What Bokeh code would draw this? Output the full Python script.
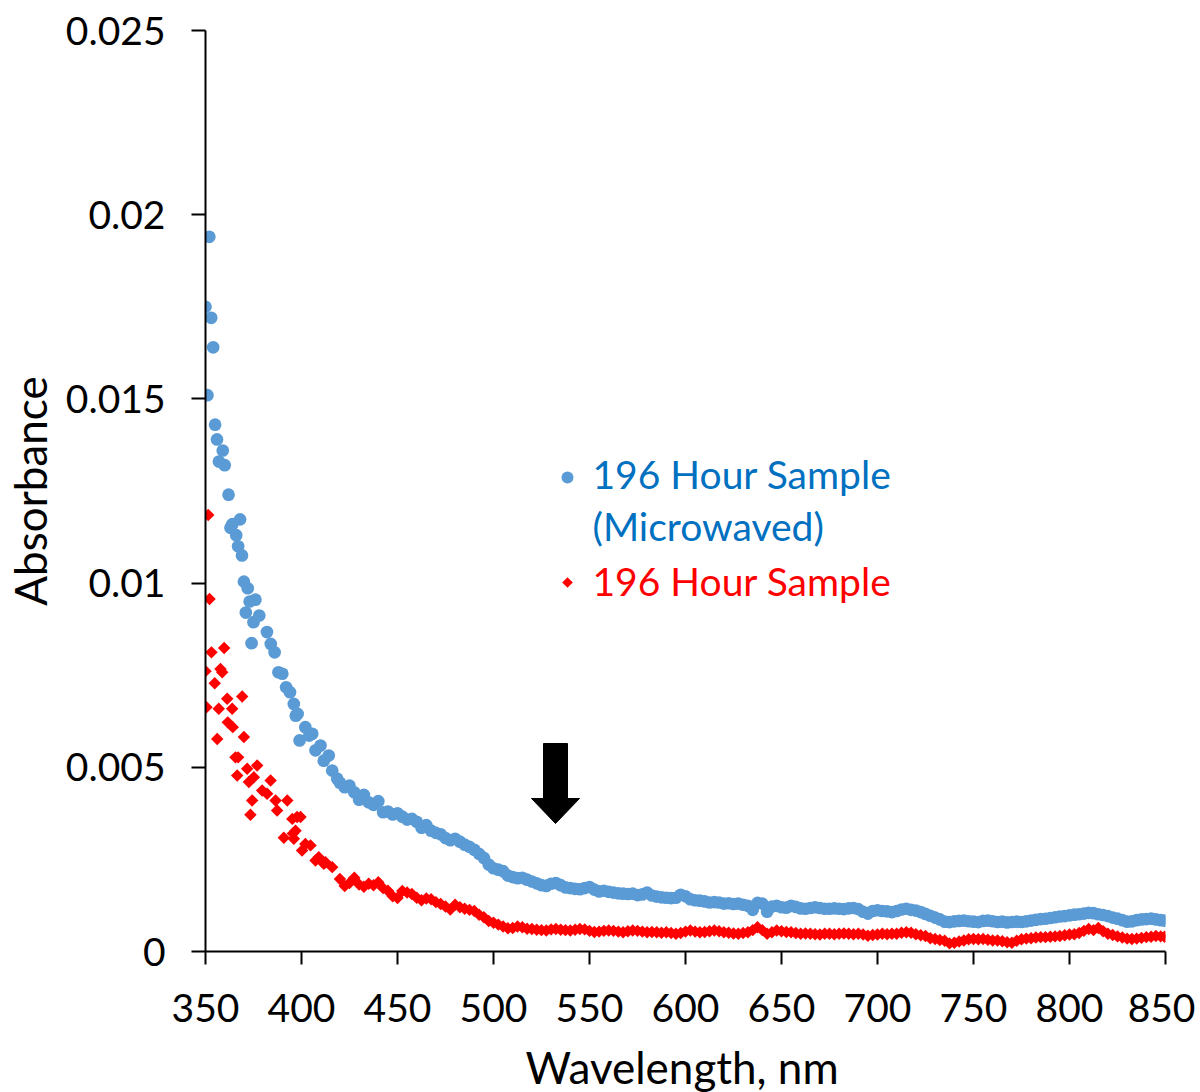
import numpy as np
from bokeh.plotting import figure
from bokeh.models import FixedTicker, Label, Div
from bokeh.layouts import column
from bokeh.embed import file_html
from bokeh.resources import INLINE

# ---------------- data ----------------
blue_wl = [350, 351, 352, 353, 354, 355, 356, 357, 359, 360, 362, 363, 364, 366, 367,
           368, 369, 370, 371, 372, 373, 374, 375, 376, 378, 382, 384, 386, 388, 390,
           392, 394, 396, 397, 398, 399, 402, 404, 405.6, 407.3, 409.9, 411.6, 414.2,
           416, 418.6,
           420, 422.5, 425, 427.5, 430, 432.5, 435, 437.5, 440, 442.5, 445, 447.5, 450,
           452.5, 455, 457.5, 460, 462.5, 465, 467.5, 470, 472.5, 475, 477.5, 480, 482.5,
           485, 487.5, 490, 492.5, 495, 497.5, 500, 502.5, 505, 507.5, 510, 512.5, 515,
           517.5, 520, 522.5, 525, 527.5, 530, 532.5, 535, 537.5, 540, 542.5, 545, 547.5,
           550, 552.5, 555, 557.5, 560, 562.5, 565, 567.5, 570, 572.5, 575, 577.5, 580,
           582.5, 585, 587.5, 590, 592.5, 595, 597.5, 600, 602.5, 605, 607.5, 610, 612.5,
           615, 617.5, 620, 622.5, 625, 627.5, 630, 632.5, 635, 637.5, 640, 642.5, 645,
           647.5, 650, 652.5, 655, 657.5, 660, 662.5, 665, 667.5, 670, 672.5, 675, 677.5,
           680, 682.5, 685, 687.5, 690, 692.5, 695, 697.5, 700, 702.5, 705, 707.5, 710,
           712.5, 715, 717.5, 720, 722.5, 725, 727.5, 730, 732.5, 735, 737.5, 740, 742.5,
           745, 747.5, 750, 752.5, 755, 757.5, 760, 762.5, 765, 767.5, 770, 772.5, 775,
           777.5, 780, 782.5, 785, 787.5, 790, 792.5, 795, 797.5, 800, 802.5, 805, 807.5,
           810, 812.5, 815, 817.5, 820, 822.5, 825, 827.5, 830, 832.5, 835, 837.5, 840,
           842.5, 845, 847.5, 849.5]
blue_abs = [0.0175, 0.0151, 0.0194, 0.0172, 0.0164, 0.0143, 0.0139, 0.0133, 0.0136, 0.0132,
            0.0124, 0.0115, 0.0116, 0.0113, 0.0110, 0.01173, 0.01075, 0.01004, 0.0092,
            0.00986, 0.0095, 0.00837, 0.00894, 0.00955, 0.00912, 0.00867, 0.00835, 0.00812,
            0.00758, 0.00754, 0.00717, 0.00704, 0.00672, 0.0064, 0.00645, 0.00573, 0.00609,
            0.00586, 0.00591, 0.00546, 0.00559, 0.00518, 0.00532, 0.00491, 0.00469,
            0.00458, 0.00446, 0.00450, 0.00432, 0.00412, 0.00425, 0.00405, 0.00398, 0.00408,
            0.00378, 0.00380, 0.00372, 0.00375, 0.00366, 0.00358, 0.00360, 0.00352, 0.00336,
            0.00343, 0.00328, 0.00322, 0.00318, 0.00308, 0.00302, 0.00306, 0.00298, 0.00290,
            0.00284, 0.00276, 0.00265, 0.00254, 0.00236, 0.00226, 0.00222, 0.00218, 0.00206,
            0.00202, 0.00199, 0.00200, 0.00195, 0.00190, 0.00185, 0.00180, 0.00178, 0.00184,
            0.00186, 0.00180, 0.00174, 0.00172, 0.00170, 0.00169, 0.00172, 0.00175, 0.00168,
            0.00163, 0.00165, 0.00162, 0.00160, 0.00158, 0.00157, 0.00156, 0.00157, 0.00153,
            0.00155, 0.00160, 0.00152, 0.00149, 0.00147, 0.00146, 0.00145, 0.00146, 0.00154,
            0.00150, 0.00142, 0.00139, 0.00138, 0.00136, 0.00133, 0.00134, 0.00133, 0.00130,
            0.00131, 0.00129, 0.00130, 0.00127, 0.00124, 0.00113, 0.00132, 0.00130, 0.00108,
            0.00122, 0.00124, 0.00120, 0.00119, 0.00124, 0.00121, 0.00117, 0.00116, 0.00118,
            0.00120, 0.00118, 0.00116, 0.00116, 0.00117, 0.00116, 0.00115, 0.00117, 0.00118,
            0.00115, 0.00108, 0.00103, 0.00110, 0.00112, 0.00110, 0.00109, 0.00107, 0.00110,
            0.00114, 0.00116, 0.00113, 0.00111, 0.00107, 0.00102, 0.00097, 0.00092, 0.00087,
            0.00081, 0.00080, 0.00082, 0.00083, 0.00084, 0.00082, 0.00081, 0.00080, 0.00083,
            0.00084, 0.00082, 0.00080, 0.00081, 0.00079, 0.00080, 0.00081, 0.00080, 0.00082,
            0.00084, 0.00086, 0.00088, 0.00089, 0.00091, 0.00093, 0.00095, 0.00096, 0.00098,
            0.00100, 0.00101, 0.00103, 0.00105, 0.00104, 0.00101, 0.00099, 0.00096, 0.00092,
            0.00089, 0.00085, 0.00081, 0.00082, 0.00085, 0.00087, 0.00088, 0.00089, 0.00087,
            0.00085, 0.00084]

red_wl = [350, 350.5, 351.4, 352.1, 353.1, 354.8, 356.1, 356.9, 357.8, 358.7, 359.7, 361.3,
          361.6, 363.9, 364.2, 365.6, 366.5, 367, 369.1, 370, 371.7, 372.6, 373.4, 374.3,
          375.2, 376.9, 379.5, 382.1, 383.9, 386.5, 387.3, 390.8, 392.6, 395.2, 395.5, 396,
          396.9, 397.7, 399.5, 400.3, 402, 404.7, 407.3, 409, 411.6, 412.5, 416,
          420, 422.5, 425, 427.5, 430, 432.5, 435, 437.5, 440, 442.5, 445, 447.5, 450,
          452.5, 455, 457.5, 460, 462.5, 465, 467.5, 470, 472.5, 475, 477.5, 480, 482.5,
          485, 487.5, 490, 492.5, 495, 497.5, 500, 502.5, 505, 507.5, 510, 512.5, 515,
          517.5, 520, 522.5, 525, 527.5, 530, 532.5, 535, 537.5, 540, 542.5, 545, 547.5,
          550, 552.5, 555, 557.5, 560, 562.5, 565, 567.5, 570, 572.5, 575, 577.5, 580,
          582.5, 585, 587.5, 590, 592.5, 595, 597.5, 600, 602.5, 605, 607.5, 610, 612.5,
          615, 617.5, 620, 622.5, 625, 627.5, 630, 632.5, 635, 637.5, 640, 642.5, 645,
          647.5, 650, 652.5, 655, 657.5, 660, 662.5, 665, 667.5, 670, 672.5, 675, 677.5,
          680, 682.5, 685, 687.5, 690, 692.5, 695, 697.5, 700, 702.5, 705, 707.5, 710,
          712.5, 715, 717.5, 720, 722.5, 725, 727.5, 730, 732.5, 735, 737.5, 740, 742.5,
          745, 747.5, 750, 752.5, 755, 757.5, 760, 762.5, 765, 767.5, 770, 772.5, 775,
          777.5, 780, 782.5, 785, 787.5, 790, 792.5, 795, 797.5, 800, 802.5, 805, 807.5,
          810, 812.5, 815, 817.5, 820, 822.5, 825, 827.5, 830, 832.5, 835, 837.5, 840,
          842.5, 845, 847.5, 849.5]
red_abs = [0.00761, 0.00663, 0.01185, 0.00957, 0.00812, 0.00728, 0.00577, 0.00659, 0.00767,
           0.00758, 0.00824, 0.00686, 0.00622, 0.00659, 0.00609, 0.00527, 0.00478, 0.00527,
           0.00692, 0.00582, 0.00496, 0.00460, 0.00371, 0.00410, 0.00473, 0.00505, 0.00437,
           0.00428, 0.00464, 0.00410, 0.00383, 0.00309, 0.00410, 0.00360, 0.00320, 0.00306,
           0.00328, 0.00365, 0.00365, 0.00274, 0.00292, 0.00288, 0.00247, 0.00256, 0.00238,
           0.00242, 0.00229,
           0.00197, 0.00178, 0.00186, 0.00200, 0.00182, 0.00176, 0.00184, 0.00180, 0.00188,
           0.00172, 0.00165, 0.00150, 0.00145, 0.00164, 0.00160, 0.00156, 0.00146, 0.00139,
           0.00144, 0.00142, 0.00134, 0.00129, 0.00122, 0.00114, 0.00127, 0.00120, 0.00116,
           0.00113, 0.00110, 0.00100, 0.00093, 0.00083, 0.00078, 0.00073, 0.00068, 0.00063,
           0.00064, 0.00068, 0.00066, 0.00062, 0.00061, 0.00059, 0.00058, 0.00057, 0.00060,
           0.00061, 0.00059, 0.00058, 0.00057, 0.00059, 0.00061, 0.00060, 0.00056, 0.00053,
           0.00054, 0.00056, 0.00057, 0.00056, 0.00054, 0.00052, 0.00055, 0.00057, 0.00056,
           0.00054, 0.00052, 0.00053, 0.00052, 0.00051, 0.00052, 0.00050, 0.00048, 0.00050,
           0.00054, 0.00057, 0.00054, 0.00052, 0.00053, 0.00055, 0.00057, 0.00055, 0.00052,
           0.00051, 0.00049, 0.00048, 0.00050, 0.00052, 0.00058, 0.00066, 0.00058, 0.00048,
           0.00052, 0.00057, 0.00055, 0.00053, 0.00052, 0.00050, 0.00048, 0.00049, 0.00048,
           0.00047, 0.00046, 0.00048, 0.00048, 0.00047, 0.00048, 0.00049, 0.00048, 0.00047,
           0.00048, 0.00046, 0.00043, 0.00045, 0.00046, 0.00048, 0.00047, 0.00048, 0.00048,
           0.00051, 0.00052, 0.00051, 0.00047, 0.00044, 0.00042, 0.00036, 0.00034, 0.00031,
           0.00029, 0.00022, 0.00024, 0.00027, 0.00030, 0.00033, 0.00034, 0.00033, 0.00034,
           0.00032, 0.00030, 0.00030, 0.00028, 0.00025, 0.00024, 0.00029, 0.00033, 0.00035,
           0.00036, 0.00038, 0.00039, 0.00039, 0.00040, 0.00041, 0.00042, 0.00044, 0.00046,
           0.00047, 0.00050, 0.00056, 0.00061, 0.00058, 0.00064, 0.00055, 0.00048, 0.00045,
           0.00041, 0.00038, 0.00035, 0.00034, 0.00035, 0.00037, 0.00039, 0.00040, 0.00042,
           0.00041, 0.00040]

x_ticks = [350, 400, 450, 500, 550, 600, 650, 700, 750, 800, 850]
y_ticks = [0, 0.005, 0.01, 0.015, 0.02, 0.025]
y_tick_labels = ["0", "0.005", "0.01", "0.015", "0.02", "0.025"]

series_blue_name = ["196 Hour Sample", "(Microwaved)"]
series_red_name = "196 Hour Sample"
x_title = "Wavelength, nm"
y_title = "Absorbance"

# ---------------- figure ----------------
FONT = "Lato"
BLUE = "#5B9BD5"
RED = "#FF0000"

p = figure(width=1195, height=1043, x_range=(350, 850), y_range=(0, 0.025),
           output_backend="svg", toolbar_location=None,
           min_border_left=205, min_border_right=30, min_border_top=30, min_border_bottom=92)
p.outline_line_color = None
p.grid.visible = False
p.background_fill_color = "white"
p.border_fill_color = "white"

p.xaxis.ticker = FixedTicker(ticks=x_ticks)
p.yaxis.ticker = FixedTicker(ticks=y_ticks)
p.yaxis.major_label_overrides = {t: s for t, s in zip(y_ticks, y_tick_labels)}

for ax in (p.xaxis[0], p.yaxis[0]):
    ax.axis_line_color = "black"
    ax.axis_line_width = 2
    ax.major_tick_line_color = "black"
    ax.major_tick_line_width = 2
    ax.major_tick_in = 0
    ax.minor_tick_line_color = None
    ax.major_label_text_font = FONT
    ax.major_label_text_font_size = "39px"
    ax.major_label_text_color = "black"
    ax.axis_label_text_font = FONT
    ax.axis_label_text_font_size = "44px"
    ax.axis_label_text_font_style = "normal"
    ax.axis_label_text_color = "black"

p.xaxis.major_tick_out = 13
p.yaxis.major_tick_out = 14
p.xaxis.major_label_standoff = 29
p.yaxis.major_label_standoff = 26
p.yaxis.axis_label = y_title
p.yaxis.axis_label_standoff = 7

# data
p.scatter(blue_wl, blue_abs, marker="circle", size=12.7, fill_color=BLUE, line_color=None)
p.scatter(red_wl, red_abs, marker="square", angle=np.pi / 4, size=8.8,
          fill_color=RED, line_color=None)

# helpers: canvas pixel -> data (for annotation placement only)
def px_x(px):
    return 350 + (px - 205) / 1.92

def px_y(py):
    return (951 - py) / 36840.0

# legend (manual, inside plot)
p.scatter([px_x(567)], [px_y(477)], marker="circle", size=12, fill_color=BLUE, line_color=None)
p.scatter([px_x(567)], [px_y(582)], marker="square", angle=np.pi / 4, size=7.5,
          fill_color=RED, line_color=None)
for txt, py, col in [(series_blue_name[0], 473, "#0070C0"),
                     (series_blue_name[1], 525, "#0070C0"),
                     (series_red_name, 580, RED)]:
    p.add_layout(Label(x=px_x(592), y=px_y(py), text=txt, text_color=col,
                       text_font=FONT, text_font_size="39px",
                       text_baseline="alphabetic", text_align="left"))

# arrow
ax_pts = [px_x(543), px_x(567), px_x(567), px_x(579), px_x(555), px_x(531), px_x(543)]
ay_pts = [px_y(743), px_y(743), px_y(798), px_y(798), px_y(823), px_y(798), px_y(798)]
p.patch(ax_pts, ay_pts, fill_color="black", line_color="black", line_width=1)

# x-axis title below the chart
xtitle = Div(text=x_title, width=1195, height=49, margin=(0, 0, 0, 0),
             styles={"overflow": "hidden", "font-family": FONT, "font-size": "44px",
                     "color": "black", "text-align": "center", "padding-left": "169px",
                     "padding-top": "0px", "line-height": "1.1",
                     "box-sizing": "border-box", "white-space": "nowrap"})

layout = column(p, xtitle, spacing=0)

open("out.html", "w").write(file_html(layout, INLINE))
